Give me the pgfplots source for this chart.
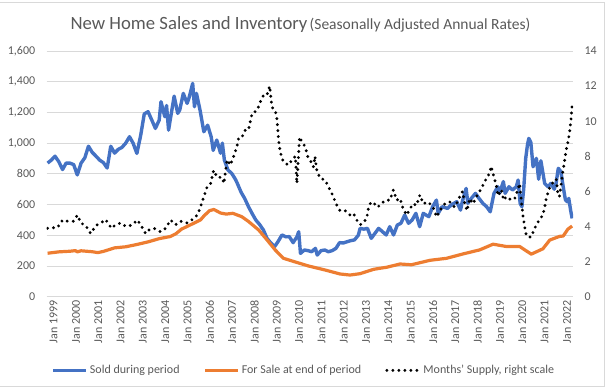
\documentclass[border=0pt]{standalone}
\usepackage{pgfplots}
\pgfplotsset{compat=1.18}
\usepackage{pgfplotstable}
\usepackage{fontspec}
\setmainfont{Carlito}
\definecolor{sblue}{HTML}{4472C4}
\definecolor{sorange}{HTML}{ED7D31}
\definecolor{lgray}{HTML}{D9D9D9}
\definecolor{tgray}{HTML}{595959}

\pgfplotstableread{
x y
1999.00 870
1999.17 890
1999.33 915
1999.50 880
1999.67 828
1999.83 870
2000.00 870
2000.17 860
2000.33 793
2000.50 870
2000.67 905
2000.83 980
2001.00 940
2001.17 915
2001.33 890
2001.50 873
2001.67 838
2001.83 980
2002.00 935
2002.17 960
2002.33 972
2002.50 1000
2002.67 1042
2002.83 1000
2003.00 933
2003.17 1050
2003.33 1190
2003.50 1205
2003.67 1150
2003.83 1096
2004.00 1150
2004.08 1270
2004.25 1172
2004.33 1245
2004.42 1085
2004.67 1306
2004.83 1194
2004.92 1215
2005.08 1324
2005.25 1259
2005.33 1291
2005.50 1389
2005.58 1237
2005.67 1324
2005.83 1215
2006.00 1074
2006.17 1117
2006.33 1041
2006.42 953
2006.58 1020
2006.75 934
2006.83 1000
2006.92 890
2007.08 825
2007.25 803
2007.42 763
2007.50 738
2007.67 680
2007.83 640
2008.00 586
2008.17 540
2008.33 499
2008.50 470
2008.67 434
2008.83 380
2009.00 350
2009.17 326
2009.33 360
2009.50 402
2009.67 390
2009.83 391
2010.00 352
2010.17 390
2010.25 423
2010.33 282
2010.50 304
2010.67 300
2010.83 293
2011.00 315
2011.08 271
2011.25 300
2011.42 304
2011.58 293
2011.75 300
2011.92 315
2012.08 352
2012.25 350
2012.42 358
2012.58 365
2012.75 370
2012.92 400
2013.00 445
2013.17 440
2013.33 445
2013.50 380
2013.67 413
2013.83 445
2013.92 434
2014.17 402
2014.33 456
2014.50 402
2014.67 467
2014.83 478
2015.00 532
2015.17 478
2015.33 499
2015.50 543
2015.67 456
2015.83 543
2016.08 521
2016.25 586
2016.42 629
2016.50 543
2016.67 586
2016.92 575
2017.08 597
2017.33 619
2017.50 564
2017.58 619
2017.75 705
2017.83 608
2017.92 629
2018.17 673
2018.33 640
2018.50 608
2018.67 586
2018.83 553
2019.00 673
2019.17 716
2019.25 673
2019.42 750
2019.50 673
2019.67 716
2019.83 695
2020.00 716
2020.08 760
2020.17 608
2020.25 586
2020.33 700
2020.42 900
2020.50 990
2020.56 1031
2020.65 1005
2020.75 846
2020.90 901
2021.00 765
2021.10 885
2021.27 738
2021.42 716
2021.55 738
2021.70 700
2021.78 738
2021.88 836
2022.00 814
2022.10 716
2022.20 630
2022.28 618
2022.35 640
2022.43 565
2022.50 510
}\sold

\pgfplotstableread{
x y
1999.00 283
1999.50 292
2000.00 296
2000.25 300
2000.33 292
2000.50 299
2001.00 293
2001.25 287
2001.50 295
2002.00 318
2002.50 325
2003.00 340
2003.50 357
2004.00 378
2004.50 392
2004.75 410
2005.00 440
2005.50 475
2005.85 500
2006.00 525
2006.25 560
2006.45 568
2006.75 545
2007.00 538
2007.30 543
2007.70 521
2008.00 490
2008.46 434
2008.83 370
2009.20 304
2009.57 250
2010.10 226
2010.69 200
2011.43 174
2012.10 148
2012.55 141
2013.00 150
2013.60 178
2013.89 185
2014.20 192
2014.79 213
2015.30 208
2016.13 237
2016.87 250
2017.60 278
2018.36 305
2018.96 342
2019.55 327
2020.15 327
2020.67 277
2021.19 312
2021.50 369
2021.94 393
2022.10 395
2022.31 440
2022.50 460
}\forsale

\pgfplotstableread{
x y
1999.00 3.9
1999.20 3.95
1999.37 3.9
1999.55 4.1
1999.67 4.37
1999.90 4.3
2000.15 4.3
2000.34 4.65
2000.49 4.2
2000.71 4.05
2000.93 3.6
2001.16 4.05
2001.38 4.2
2001.60 4.4
2001.86 3.9
2002.05 4.1
2002.28 4.2
2002.45 4.05
2002.57 4.0
2002.80 4.1
2003.02 4.37
2003.17 4.1
2003.39 3.6
2003.54 3.8
2003.76 3.9
2004.06 3.7
2004.29 3.9
2004.51 4.37
2004.73 4.1
2004.96 4.3
2005.26 4.2
2005.55 4.46
2005.70 4.65
2005.82 5.0
2006.00 5.7
2006.15 6.27
2006.30 6.45
2006.44 7.2
2006.60 6.8
2006.82 6.8
2006.90 6.45
2007.04 7.8
2007.19 7.5
2007.34 8.0
2007.49 8.6
2007.56 9.05
2007.71 9.1
2007.86 9.5
2008.00 9.5
2008.16 10.45
2008.38 10.6
2008.53 11.1
2008.68 11.5
2008.83 11.5
2008.95 12.0
2009.05 10.8
2009.20 10.6
2009.28 10.07
2009.35 8.9
2009.40 8.45
2009.50 7.85
2009.65 7.6
2009.80 7.5
2009.95 7.8
2010.10 8.0
2010.17 6.46
2010.29 9.1
2010.40 8.8
2010.54 8.55
2010.65 8.0
2010.76 7.8
2010.91 7.4
2010.98 8.0
2011.06 7.2
2011.21 6.75
2011.43 6.65
2011.58 6.27
2011.73 5.9
2011.96 5.2
2012.10 4.9
2012.33 4.9
2012.55 4.65
2012.70 4.75
2012.85 4.37
2013.00 4.1
2013.15 4.2
2013.30 4.5
2013.37 5.0
2013.45 5.3
2013.59 5.4
2013.75 5.1
2013.89 5.2
2014.12 5.5
2014.34 5.5
2014.49 6.08
2014.64 5.5
2014.79 5.6
2014.93 5.0
2015.09 4.65
2015.23 5.0
2015.38 5.3
2015.53 5.2
2015.68 5.8
2015.83 5.3
2016.05 5.4
2016.27 5.1
2016.43 4.55
2016.57 4.9
2016.80 5.3
2017.02 5.4
2017.24 5.1
2017.47 5.7
2017.59 6.0
2017.69 5.3
2017.79 4.9
2017.91 5.6
2018.06 5.3
2018.21 5.7
2018.36 6.0
2018.51 6.36
2018.66 6.75
2018.81 7.05
2018.87 7.43
2018.96 7.0
2019.11 6.3
2019.18 5.75
2019.33 6.1
2019.43 5.5
2019.55 5.7
2019.78 5.5
2019.93 5.6
2020.07 6.1
2020.15 6.45
2020.22 5.5
2020.30 4.6
2020.37 4.0
2020.45 3.5
2020.52 3.4
2020.67 3.4
2020.82 3.9
2020.95 4.2
2021.04 4.4
2021.19 4.65
2021.27 5.1
2021.34 5.6
2021.49 6.2
2021.64 6.5
2021.79 6.7
2021.86 5.9
2021.93 5.7
2022.01 6.4
2022.08 7.1
2022.16 7.7
2022.23 8.36
2022.31 8.8
2022.38 9.3
2022.45 10.1
2022.50 10.9
}\supply

\begin{document}
\begin{tikzpicture}[x=1bp,y=1bp]
\useasboundingbox (0,0) rectangle (608,388);
\draw[lgray, line width=0.75bp] (0,386) -- (604,386) -- (604,2) -- (0,2);
\node[anchor=base, text=tgray, inner sep=0pt] at (300.5,359)
  {{\fontsize{18.7bp}{22bp}\selectfont New Home Sales and Inventory} {\fontsize{15.5bp}{18bp}\selectfont (Seasonally Adjusted Annual Rates)}};
\pgfplotsset{
  base/.style={
    at={(46.7bp,91.3bp)}, anchor=south west,
    scale only axis, width=526.3bp, height=245.7bp,
    xmin=1998.96, xmax=2022.54,
    major tick length=0pt,
    axis line style={draw=none},
    tick label style={color=tgray, font=\fontsize{12bp}{14bp}\selectfont},
    /pgf/number format/assume math mode=true,
    /pgf/number format/1000 sep={,},
  }
}
\begin{axis}[base,
  ymin=0, ymax=1600,
  axis x line*=bottom, axis y line*=left,
  ytick={0,200,...,1600},
  ymajorgrids, grid style={lgray, line width=0.75bp},
  xtick={1999,...,2022},
  xticklabels={Jan 1999,Jan 2000,Jan 2001,Jan 2002,Jan 2003,Jan 2004,Jan 2005,Jan 2006,Jan 2007,Jan 2008,Jan 2009,Jan 2010,Jan 2011,Jan 2012,Jan 2013,Jan 2014,Jan 2015,Jan 2016,Jan 2017,Jan 2018,Jan 2019,Jan 2020,Jan 2021,Jan 2022},
  xticklabel style={rotate=90, anchor=east},
  yticklabel style={xshift=-8bp},
  every x tick label/.append style={yshift=-6bp},
]
\addplot[sblue, line width=3.4bp, line join=round] table {\sold};
\addplot[sorange, line width=3.2bp, line join=round] table {\forsale};
\end{axis}
\begin{axis}[base,
  ymin=0, ymax=14,
  axis y line*=right, axis x line=none,
  ytick={0,2,...,14},
  yticklabel style={xshift=8bp, anchor=west},
  legend style={at={(0.4885,-0.30)}, anchor=center, draw=none, fill=none,
    legend columns=3, font=\fontsize{12bp}{14bp}\selectfont, text=tgray,
    /tikz/every even column/.append style={column sep=22bp}},
  legend image code/.code={\draw[#1] (0bp,0bp) -- (33bp,0bp);},
]
\addlegendimage{sblue, line width=3.4bp}
\addlegendentry{Sold during period}
\addlegendimage{sorange, line width=3.2bp}
\addlegendentry{For Sale at end of period}
\addplot[black, line width=3.2bp, line cap=round, dash pattern=on 0bp off 6bp] table {\supply};
\addlegendentry{Months' Supply, right scale}
\end{axis}
\end{tikzpicture}
\end{document}
